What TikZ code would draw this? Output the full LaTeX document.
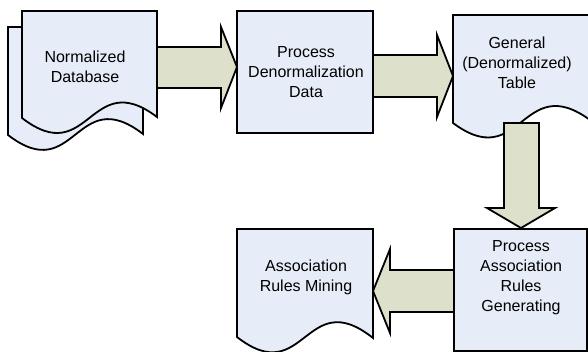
\documentclass[tikz,border=0pt]{standalone}
\usepackage{fontspec}
\setmainfont{Liberation Sans}
\definecolor{docfill}{RGB}{231,237,248}
\definecolor{arrowfill}{RGB}{221,225,203}
\begin{document}
\begin{tikzpicture}[x=1pt,y=-1pt,
  docshape/.style={draw=black,line width=1.8pt,fill=docfill,line join=miter},
  blockarrow/.style={draw=black,line width=1.8pt,fill=arrowfill,line join=miter},
  txt/.style={align=center,font=\fontsize{16}{20}\selectfont,inner sep=0pt},
  procbox/.style={docshape,line width=1.8pt,rectangle,inner sep=0pt}]
\useasboundingbox (0,0) rectangle (588,352);
% Normalized Database (stacked documents)
\draw[docshape] (8,27) -- (143,27) -- (143,134) .. controls (75.5,82) and (75.5,187) .. (8,135) -- cycle;
\draw[docshape] (22,11) -- (157,11) -- (157,117) .. controls (89.5,66) and (89.5,170) .. (22,118) -- cycle;
\node[txt] (ndb) at (85,67) {Normalized\\Database};
% Process Denormalization Data
\node[procbox,minimum width=136pt,minimum height=122pt] (pdd) at (305,72) {};
\node[txt] (pddt) at (306,72) {Process\\Denormalization\\Data};
% General table document
\draw[docshape] (453,15) -- (590,15) -- (590,120) .. controls (521.5,70) and (521.5,174) .. (453,123) -- cycle;
\node[txt] (gdt) at (517,63) {General\\(Denormalized)\\Table};
% Process Association Rules Generating
\node[procbox,minimum width=133pt,minimum height=122pt] (parg) at (520.5,290) {};
\node[txt] (pargt) at (521,278) {Process\\Association\\Rules\\Generating};
% Association Rules Mining document
\draw[docshape] (237,229) -- (373,229) -- (373,338) .. controls (305,284) and (305,390) .. (237,337) -- cycle;
\node[txt] (arm) at (306,277) {Association\\Rules Mining};
% block arrows
\draw[blockarrow] (157,47) -- (221,47) -- (221,27) -- (237,67) -- (221,108) -- (221,88) -- (157,88) -- cycle;
\draw[blockarrow] (373,55) -- (437,55) -- (437,35) -- (453,76) -- (437,117) -- (437,97) -- (373,97) -- cycle;
\draw[blockarrow] (504,123) -- (539,123) -- (539,208) -- (555,208) -- (521,228) -- (487,208) -- (504,208) -- cycle;
\draw[blockarrow] (454,270) -- (390,270) -- (390,249) -- (373,291) -- (390,333) -- (390,312) -- (454,312) -- cycle;
\end{tikzpicture}
\end{document}
